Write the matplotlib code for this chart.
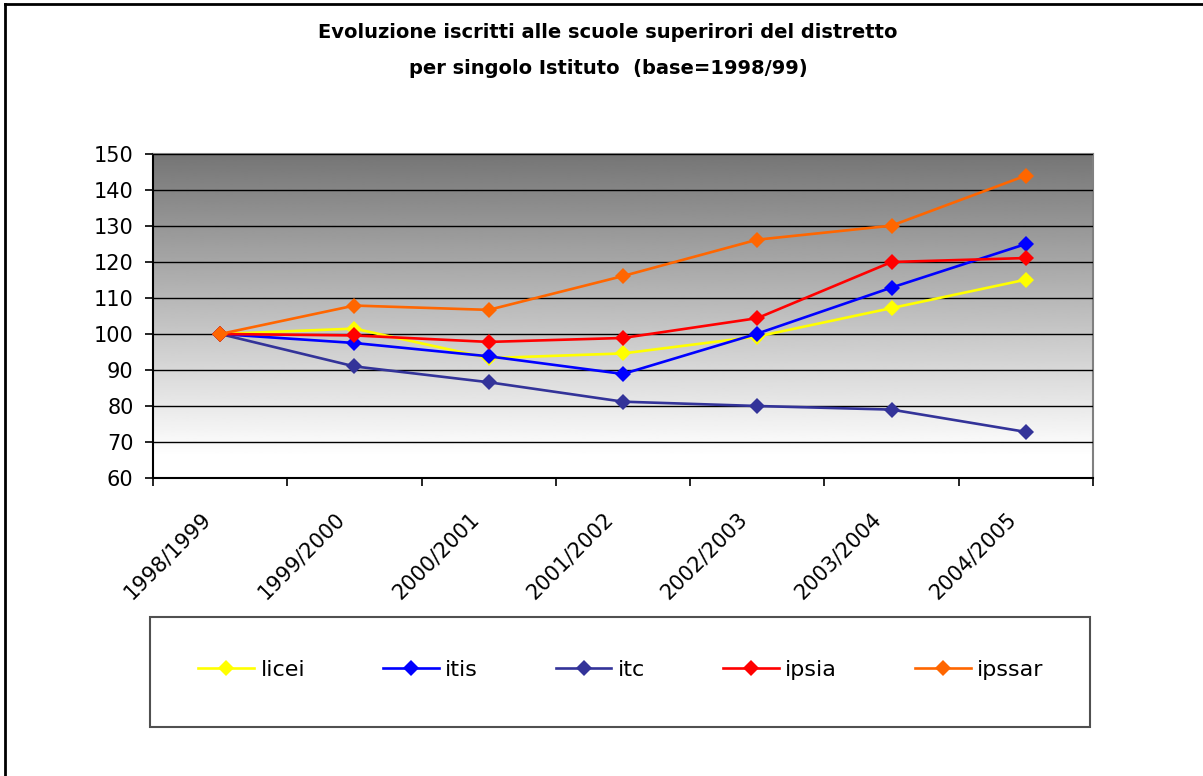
import matplotlib.pyplot as plt
import numpy as np
from matplotlib.lines import Line2D
from matplotlib.patches import Rectangle
from matplotlib.transforms import ScaledTranslation

# school years and enrolment index per institute (1998/99 = 100)
anni = ["1998/1999", "1999/2000", "2000/2001", "2001/2002",
        "2002/2003", "2003/2004", "2004/2005"]
licei = [100, 101.5, 93.3, 94.6, 99.3, 107.2, 115.1]
itis = [100, 97.5, 93.8, 88.9, 100.1, 112.9, 125.0]
itc = [100, 91.0, 86.6, 81.2, 80.0, 79.0, 72.8]
ipsia = [100, 99.6, 97.8, 98.9, 104.4, 120.0, 121.1]
ipssar = [100, 107.9, 106.7, 116.1, 126.2, 130.1, 144.0]

serie = [("licei", licei, "#FFFF00"),
         ("itis", itis, "#0000FF"),
         ("itc", itc, "#333399"),
         ("ipsia", ipsia, "#FF0000"),
         ("ipssar", ipssar, "#FF6600")]

plt.rcParams['font.family'] = ['DejaVu Sans']

W, H = 1203, 776
fig = plt.figure(figsize=(W / 100, H / 100), dpi=100)
ax = fig.add_axes([153 / W, 1 - 478 / H, (1093 - 153) / W, (478 - 154) / H])

# grey-to-white gradient behind the plot area
yy = np.linspace(1, 0, 300)
shade = np.clip(0.46 + 0.54 * (1 - yy) / 0.93, 0, 1)
ax.imshow(shade[:, None], cmap="gray", vmin=0, vmax=1, aspect="auto",
          extent=[-0.5, 6.5, 60, 150], zorder=0, interpolation="bilinear")

x = np.arange(len(anni))
for nome, vals, col in serie:
    ax.plot(x, vals, color=col, lw=1.9, marker="D", markersize=8.5,
            markeredgewidth=0, label=nome, zorder=3)

ax.set_xlim(-0.5, 6.5)
ax.set_ylim(60, 150)
ax.set_yticks(range(60, 151, 10))
ax.yaxis.grid(True, color="black", lw=1)
ax.set_axisbelow(False)
for gl in ax.get_ygridlines():
    gl.set_zorder(1)

ax.set_xticks(x)
ax.set_xticks(np.arange(-0.5, 7, 1), minor=True)
ax.set_xticklabels(anni, rotation=45, ha="right", va="center",
                   rotation_mode="anchor")
ax.tick_params(axis="x", which="major", length=0, pad=27, labelsize=15)
ax.tick_params(axis="x", which="minor", length=6, width=1.2)
ax.tick_params(axis="y", length=6, width=1.2, pad=8, labelsize=15)
shift = ScaledTranslation(-13 / 100, 0, fig.dpi_scale_trans)
for lab in ax.get_xticklabels():
    lab.set_transform(lab.get_transform() + shift)

for s in ["left", "bottom"]:
    ax.spines[s].set_color("black")
    ax.spines[s].set_linewidth(1.5)
for s in ["top", "right"]:
    ax.spines[s].set_color("#808080")
    ax.spines[s].set_linewidth(1.5)

fig.text(608 / W, 1 - 33 / H, "Evoluzione iscritti alle scuole superirori del distretto",
         ha="center", va="center", fontsize=14, fontweight="bold")
fig.text(608 / W, 1 - 68 / H, "per singolo Istituto  (base=1998/99)",
         ha="center", va="center", fontsize=14, fontweight="bold")

# legend box
fig.patches.append(Rectangle((150 / W, 1 - 727 / H), 940 / W, 110 / H,
                             transform=fig.transFigure, fill=False,
                             edgecolor="#505050", lw=1.5))
fig.legend(loc="center", bbox_to_anchor=(621 / W, 1 - 670 / H), ncol=5,
           frameon=False, fontsize=16, handlelength=2.5, handletextpad=0.3,
           columnspacing=3.5, markerscale=0.95)

# outer chart border
fig.add_artist(Line2D([5 / W, 5 / W], [0, 1 - 4 / H], color="black", lw=2,
                      transform=fig.transFigure))
fig.add_artist(Line2D([5 / W, 1], [1 - 4 / H, 1 - 4 / H], color="black", lw=2,
                      transform=fig.transFigure))

fig.savefig("out.png", dpi=100)
